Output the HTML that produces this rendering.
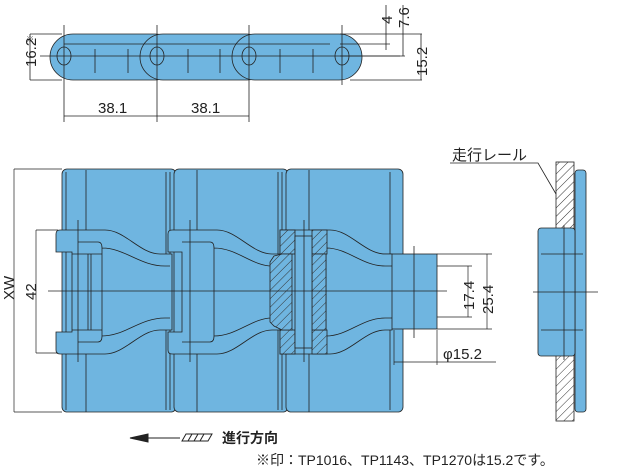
<!DOCTYPE html>
<html><head><meta charset="utf-8"><style>
html,body{margin:0;padding:0;background:#fff;width:633px;height:469px;overflow:hidden}
svg{display:block}
text{font-family:"Liberation Sans","Noto Sans CJK JP",sans-serif;fill:#222}
</style></head><body>
<svg width="633" height="469" viewBox="0 0 633 469" xmlns="http://www.w3.org/2000/svg">
<defs>
<pattern id="h" width="6" height="6" patternUnits="userSpaceOnUse" patternTransform="rotate(45)">
<rect width="6" height="6" fill="#fff"/><line x1="0" y1="0" x2="0" y2="6" stroke="#333" stroke-width="1"/></pattern>
<pattern id="hb" width="6" height="6" patternUnits="userSpaceOnUse" patternTransform="rotate(45)">
<rect width="6" height="6" fill="#6fb5e0"/><line x1="0" y1="0" x2="0" y2="6" stroke="#333" stroke-width="1"/></pattern>
</defs>
<g stroke="#222" stroke-width="0.8" fill="none">
<g fill="#6fb5e0">
<rect x="50" y="34" width="128" height="46" rx="23"/>
<rect x="140" y="34" width="130" height="46" rx="23"/>
<rect x="232" y="34" width="130" height="46" rx="23"/>
</g>
<line x1="64" y1="44" x2="330" y2="44"/>
<g fill="#6fb5e0"><ellipse cx="64" cy="56" rx="7" ry="9"/><ellipse cx="157" cy="56" rx="7" ry="9"/><ellipse cx="249" cy="56" rx="7" ry="9"/><ellipse cx="342" cy="56" rx="7" ry="9"/></g>
<path d="M95,49V73M128,49V73M188,49V73M220,49V73M280,49V73M313,49V73"/>
<line x1="40" y1="56" x2="400" y2="56"/>
<path d="M64,25V122M157,25V122M249,25V122M342,25V85"/>
<path d="M30,34H62M30,80H62M30,34V80"/>
<path d="M64,116H249"/>
<path d="M340,34H422M340,44H390M340,56H405M350,80H422"/>
<path d="M386,5V50M403,5V56M421,34V80"/>
</g>
<text font-size="15" transform="translate(36,67) rotate(-90)">16.2</text>
<text x="26" y="42" font-size="8">※</text>
<text x="98" y="113" font-size="15">38.1</text>
<text x="191" y="113" font-size="15">38.1</text>
<text font-size="15" transform="translate(392,24) rotate(-90)">4</text>
<text font-size="15" transform="translate(409,28) rotate(-90)">7.6</text>
<text font-size="15" transform="translate(427,76) rotate(-90)">15.2</text>

<g stroke="#222" stroke-width="0.8">
<rect x="62" y="169" width="114" height="243" rx="5" fill="#6fb5e0"/>
<rect x="174" y="169" width="114" height="243" rx="5" fill="#6fb5e0"/>
<rect x="286" y="169" width="117" height="243" rx="5" fill="#6fb5e0"/>
<path d="M66,172V410M86,170V412M166,172V410M170,172V410M197,170V412M278,172V410M282,172V410M309,170V412M390,172V410" fill="none"/>
<rect x="380" y="254" width="57" height="75" fill="#6fb5e0"/>
<g fill="#6fb5e0">
<path d="M56,234Q56,230 60,230H105C125,230 140,254 160,254H172V330H160C140,330 125,354 105,354H60Q56,354 56,350V332H72V252H56Z"/>
<path d="M168,234Q168,230 172,230H217C237,230 252,254 272,254H284V330H272C252,330 237,354 217,354H172Q168,354 168,350V332H182V252H168Z"/>
<path d="M280,230H330C350,230 365,254 385,254H392V330H385C365,330 350,354 330,354H280Z"/>
</g>
<path d="M78,242H98Q102,242 102,248V336Q102,342 98,342H78M102,248C125,248 140,266 165,266H170M102,336C125,336 140,318 165,318H170" fill="none"/>
<path d="M182,242H210Q214,242 214,248V336Q214,342 210,342H182M214,248C237,248 252,266 272,266M214,336C237,336 252,318 272,318" fill="none"/>
<path d="M326,248C348,248 362,266 385,266H392M326,336C348,336 362,318 385,318H392M326,248V336" fill="none"/>
<path d="M72,254H102M72,330H102M88,254V330M91,254V330" fill="none"/>
<g fill="url(#hb)">
<rect x="280" y="230" width="15" height="24"/><rect x="312" y="230" width="15" height="24"/>
<rect x="280" y="330" width="15" height="24"/><rect x="312" y="330" width="15" height="24"/>
<path d="M274,256L282,254H292V330H282L274,326L270,322V262Z"/>
<rect x="312" y="254" width="14" height="76"/>
</g>
<rect x="295" y="236" width="17" height="112" fill="#6fb5e0"/>
<path d="M304,220V362M78,220V362M190,220V362M414,246V338" fill="none"/>
<line x1="48" y1="291" x2="447" y2="291"/>
</g>
<g stroke="#222" stroke-width="0.7" fill="none">
<path d="M14,169V412M14,169H62M14,412H62"/>
<path d="M36,230V353M36,230H58M36,353H58"/>
<path d="M437,254H492M437,266H472M437,317H472M437,329H492M468,266V317M487,254V329"/>
<path d="M394,330V365M437,330V365M394,362H496"/>
</g>
<text font-size="15" transform="translate(14,300) rotate(-90)">XW</text>
<text font-size="15" transform="translate(36,300) rotate(-90)">42</text>
<text font-size="15" transform="translate(474,310) rotate(-90)">17.4</text>
<text font-size="15" transform="translate(493,314) rotate(-90)">25.4</text>
<text x="443" y="359" font-size="15">φ15.2</text>

<g stroke="#222" stroke-width="0.8">
<rect x="556" y="162" width="18" height="70" fill="url(#h)"/>
<rect x="556" y="355" width="18" height="66" fill="url(#h)"/>
<rect x="575" y="170" width="11" height="242" rx="3" fill="#6fb5e0"/>
<rect x="538" y="228" width="37" height="128" rx="3" fill="#6fb5e0"/>
<path d="M541,254H583M541,330H583" fill="none"/>
<line x1="564" y1="225" x2="564" y2="360"/>
<line x1="533" y1="292" x2="598" y2="292"/>
<path d="M450,163H538L556,194" fill="none"/>
</g>
<text x="452" y="160" font-size="15">走行レール</text>

<g stroke="#222" fill="#222">
<path d="M130,438L148,434V442Z"/><line x1="146" y1="438" x2="180" y2="438" stroke-width="1"/>
</g>
<g stroke="#222" stroke-width="1"><path d="M182,441L186,434H212L208,441ZM188,441L192,434M194,441L198,434M200,441L204,434" fill="none"/></g>
<text x="222" y="443" font-size="14" font-weight="bold">進行方向</text>
<text x="256" y="465" font-size="14">※印：TP1016、TP1143、TP1270は15.2です。</text>
</svg>
</body></html>
